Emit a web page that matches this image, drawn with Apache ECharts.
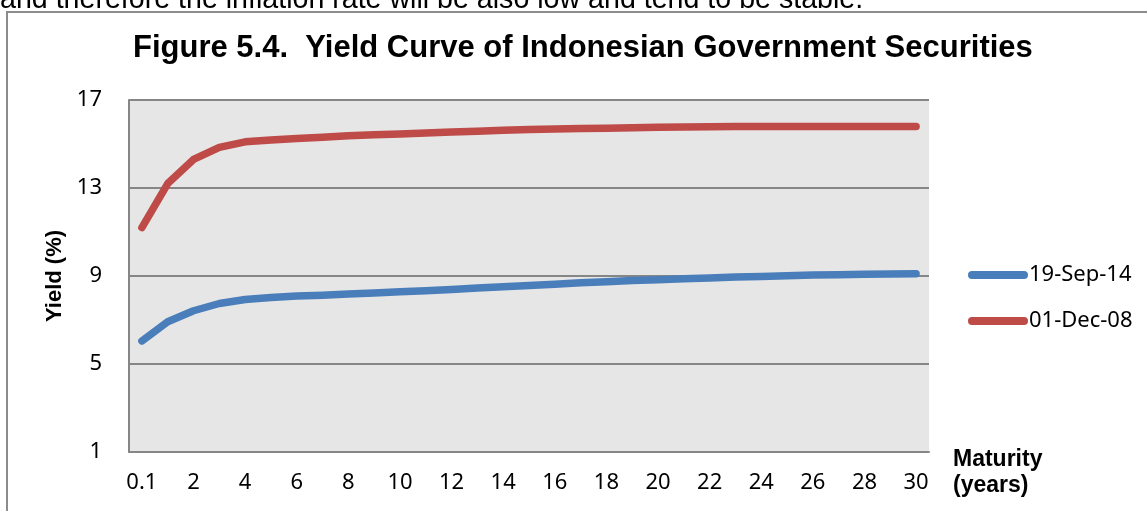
<!DOCTYPE html>
<html>
<head>
<meta charset="utf-8">
<script src="https://cdn.jsdelivr.net/npm/echarts@6.0.0/dist/echarts.min.js"></script>
<style>
  html, body { margin: 0; padding: 0; background: #ffffff; }
  #chart { width: 1147px; height: 511px; }
</style>
</head>
<body>
<div id="chart"></div>
<script>
// Maturity buckets (years)
const maturities = ['0.1', '1', '2', '3', '4', '5', '6', '7', '8', '9', '10',
  '11', '12', '13', '14', '15', '16', '17', '18', '19', '20',
  '21', '22', '23', '24', '25', '26', '27', '28', '29', '30'];

// Yield (%) on 19-Sep-14
const yieldSep14 = [6.05, 6.92, 7.42, 7.75, 7.93, 8.02, 8.09, 8.13, 8.18, 8.23, 8.28,
  8.33, 8.39, 8.45, 8.51, 8.57, 8.63, 8.69, 8.74, 8.79, 8.83,
  8.87, 8.91, 8.95, 8.98, 9.01, 9.04, 9.06, 9.08, 9.09, 9.10];

// Yield (%) on 01-Dec-08
const yieldDec08 = [11.2, 13.2, 14.3, 14.85, 15.1, 15.18, 15.25, 15.31, 15.37, 15.42, 15.46,
  15.50, 15.54, 15.58, 15.62, 15.66, 15.68, 15.70, 15.72, 15.74, 15.76,
  15.77, 15.78, 15.79, 15.79, 15.79, 15.79, 15.79, 15.79, 15.79, 15.79];

const seriesNames = ['19-Sep-14', '01-Dec-08'];
const seriesColors = ['#4a7ebb', '#be4b48'];

const yMin = 1, yMax = 17, yStep = 4;

const tickFont = '"Noto Sans", "DejaVu Sans", sans-serif';
const gridGray = '#868686';

const chart = echarts.init(document.getElementById('chart'), null, { renderer: 'canvas' });

const pillIcon = 'path://M4,0H56A4,4,0,0,1,56,8H4A4,4,0,0,1,4,0Z';

const option = {
  backgroundColor: '#ffffff',
  animation: false,
  title: {
    text: 'Figure 5.4.  Yield Curve of Indonesian Government Securities',
    left: 133,
    top: 33,
    padding: 0,
    textStyle: {
      fontFamily: '"Liberation Sans", Arial, sans-serif',
      fontWeight: 'bold',
      fontSize: 31,
      color: '#000000'
    }
  },
  legend: {
    orient: 'vertical',
    left: 963,
    top: 258,
    itemWidth: 60,
    itemHeight: 9,
    itemGap: 22,
    icon: pillIcon,
    data: seriesNames,
    textStyle: {
      fontFamily: tickFont,
      fontSize: 22,
      lineHeight: 24,
      color: '#000000',
      padding: [0, 0, 0, -4]
    }
  },
  grid: {
    left: 129,
    top: 100,
    width: 800,
    height: 352,
    show: true,
    backgroundColor: '#e6e6e6',
    borderWidth: 0
  },
  xAxis: {
    type: 'category',
    data: maturities,
    boundaryGap: true,
    axisLine: { show: true, lineStyle: { color: gridGray, width: 2 } },
    axisTick: { show: false },
    splitLine: { show: false },
    axisLabel: {
      interval: 1,
      margin: 20,
      fontFamily: tickFont,
      fontSize: 22,
      color: '#000000'
    }
  },
  yAxis: {
    type: 'value',
    min: yMin,
    max: yMax,
    interval: yStep,
    axisLine: { show: true, lineStyle: { color: gridGray, width: 2 } },
    axisTick: { show: false },
    splitLine: { show: true, lineStyle: { color: gridGray, width: 2 } },
    axisLabel: {
      margin: 27,
      fontFamily: tickFont,
      fontSize: 22,
      color: '#000000'
    }
  },
  series: [
    {
      name: seriesNames[0],
      type: 'line',
      data: yieldSep14,
      symbol: 'none',
      smooth: false,
      itemStyle: { color: seriesColors[0] },
      lineStyle: { color: seriesColors[0], width: 7.5, cap: 'round', join: 'round' }
    },
    {
      name: seriesNames[1],
      type: 'line',
      data: yieldDec08,
      symbol: 'none',
      smooth: false,
      itemStyle: { color: seriesColors[1] },
      lineStyle: { color: seriesColors[1], width: 7.5, cap: 'round', join: 'round' }
    }
  ],
  graphic: [
    {
      // sentence of the surrounding text, cut by the page edge
      type: 'text',
      left: 0,
      top: -14,
      silent: true,
      style: {
        text: 'and therefore the inflation rate will be also low and tend to be stable.',
        font: '28.6px "Liberation Sans", Arial, sans-serif',
        fill: '#000000'
      }
    },
    {
      // outer frame of the figure
      type: 'rect',
      z: -10,
      silent: true,
      shape: { x: 7, y: 12, width: 1200, height: 600 },
      style: { fill: 'none', stroke: '#8c8c8c', lineWidth: 2 }
    },
    {
      type: 'text',
      x: 55,
      y: 276,
      rotation: Math.PI / 2,
      silent: true,
      style: {
        text: 'Yield (%)',
        font: 'bold 22px "Liberation Sans", Arial, sans-serif',
        fill: '#000000',
        align: 'center',
        verticalAlign: 'middle'
      }
    },
    {
      type: 'text',
      x: 953,
      y: 447,
      silent: true,
      style: {
        text: 'Maturity\n(years)',
        font: 'bold 23px "Liberation Sans", Arial, sans-serif',
        lineHeight: 26,
        fill: '#000000',
        align: 'left',
        verticalAlign: 'top'
      }
    }
  ]
};

chart.setOption(option);
</script>
</body>
</html>
